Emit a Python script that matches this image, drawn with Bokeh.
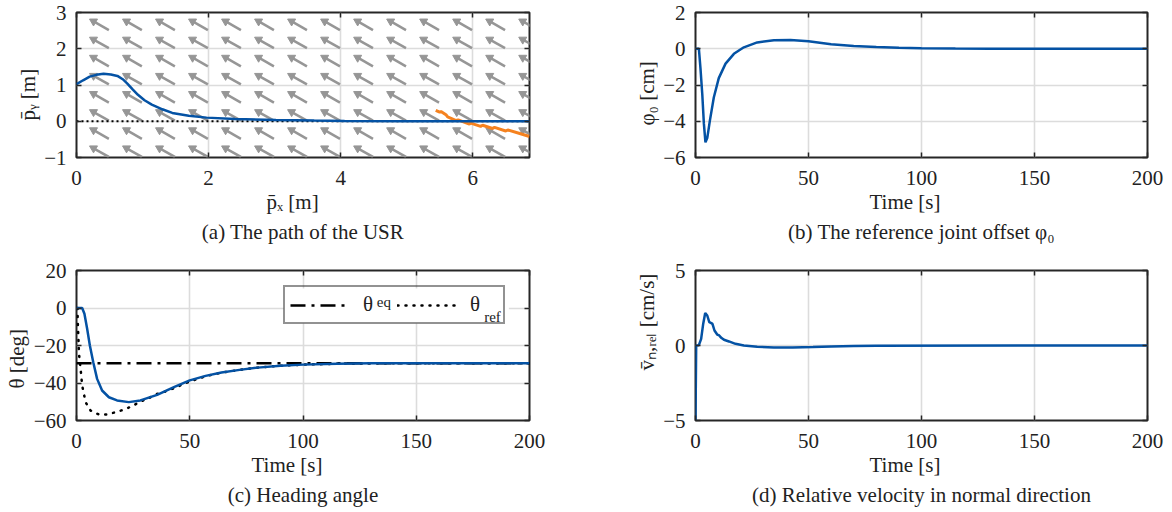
import numpy as np
from bokeh.plotting import figure
from bokeh.layouts import column, row
from bokeh.models import (Range1d, FixedTicker, LinearAxis, Title, Legend, LegendItem,
                          CustomJSTickFormatter, BoxAnnotation)
from bokeh.core.properties import value
from bokeh.embed import file_html
from bokeh.resources import INLINE

FONT = "Liberation Serif"
TXT = "#222222"
BLUE = "#0452A4"
ORANGE = "#F5821F"
GRAY = "#969696"
FS = "21px"

# ---------------- data ----------------
# (a) path of the USR
path_x = [0.00, 0.10, 0.20, 0.30, 0.41, 0.52, 0.62, 0.70, 0.77, 0.85, 0.93, 1.03, 1.14,
          1.30, 1.45, 1.70, 1.97, 2.40, 3.02, 3.60, 4.06, 5.00, 6.00, 6.86]
path_y = [1.02, 1.13, 1.23, 1.28, 1.31, 1.29, 1.25, 1.16, 1.04, 0.88, 0.73, 0.58, 0.46,
          0.33, 0.23, 0.15, 0.10, 0.06, 0.035, 0.02, 0.01, 0.0, 0.0, 0.0]
ref_path_x = [0.0, 6.86]
ref_path_y = [0.0, 0.0]
target_x = [5.44, 5.50, 5.52, 5.60, 5.62, 5.75, 5.78, 5.95, 5.97, 6.12, 6.15, 6.30, 6.33,
            6.50, 6.53, 6.70, 6.86]
target_y = [0.30, 0.25, 0.27, 0.17, 0.12, 0.02, 0.04, -0.08, -0.05, -0.14, -0.11, -0.20,
            -0.17, -0.27, -0.24, -0.33, -0.42]
quiver_x = [0.35, 0.85, 1.35, 1.85, 2.35, 2.85, 3.35, 3.85, 4.35, 4.85, 5.35, 5.85, 6.35, 6.85]
quiver_y = [2.66, 2.16, 1.66, 1.16, 0.66, 0.16, -0.34, -0.84]
quiver_u = -0.28
quiver_v = 0.29

# (b) reference joint offset phi0 [cm]
t_phi = [0, 1.5, 2.2, 3.0, 3.7, 4.4, 5.2, 6.4, 8.1, 10.3, 13.3, 17.0, 21.4, 27.3, 34.7,
         42, 50, 60, 70, 80, 90, 100, 115, 130, 200]
phi0 = [0, 0, -1.08, -2.51, -4.12, -5.16, -4.93, -3.94, -2.69, -1.62, -0.82, -0.28, 0.08,
        0.35, 0.47, 0.48, 0.41, 0.25, 0.15, 0.09, 0.05, 0.03, 0.01, 0.0, 0.0]

# (c) heading angle [deg]
t_theta = [0, 2.5, 3.5, 4.7, 5.9, 7.4, 9.1, 11.3, 14.3, 17.9, 23.1, 28.2, 35.6, 43, 50,
           57, 64, 72, 80, 90, 100, 115, 130, 150, 200]
theta = [0, 0, -3.1, -11.1, -20, -28.9, -37.8, -44, -47.6, -49.3, -50.2, -49.3, -46.3,
         -42.2, -38.6, -36.2, -34.4, -33.0, -31.8, -30.8, -30.2, -29.7, -29.5, -29.4, -29.4]
t_eq = [0, 200]
theta_eq = [-29.4, -29.4]
t_ref = [0.5, 0.5, 0.8, 1.1, 1.8, 2.5, 4.0, 6.2, 9.9, 13.5, 17.2, 20.9, 24.5, 28.2, 31.9,
         35.6, 39.3, 42.3, 45.9, 50, 57, 64, 72, 80, 90, 100, 115, 130, 150, 200]
theta_ref = [0, -5.7, -14.7, -24.4, -32.4, -41.3, -50.2, -54.7, -56.8, -56.8, -55.6, -54.2,
             -52.4, -49.9, -48.1, -45.8, -44.5, -43.1, -41.3, -39.2, -36.4, -34.5, -33.0,
             -31.8, -30.8, -30.2, -29.7, -29.5, -29.4, -29.4]
legend_main = ["\u03b8", "\u03b8"]
legend_scripts = ["eq", "ref"]

# (d) relative velocity in normal direction [cm/s]
t_v = [0, 0.3, 1.5, 2.5, 3.4, 4.3, 5.2, 6.1, 7.0, 7.5, 8.4, 9.6, 10.5, 11.4, 12.6, 14.8,
       17.7, 21.4, 27.3, 34.7, 43, 52, 60, 70, 80, 200]
v_rel = [-5, 0, 0.02, 0.44, 1.44, 2.16, 2.0, 1.56, 1.49, 1.44, 1.0, 0.73, 0.67, 0.51, 0.38,
         0.27, 0.11, 0.0, -0.09, -0.13, -0.14, -0.10, -0.06, -0.03, -0.01, 0.0]

ticks_a_x = [0, 2, 4, 6]
ticks_a_y = [-1, 0, 1, 2, 3]
ticks_t = [0, 50, 100, 150, 200]
ticks_b_y = [-6, -4, -2, 0, 2]
ticks_c_y = [-60, -40, -20, 0, 20]
ticks_d_y = [-5, 0, 5]

MINUS = CustomJSTickFormatter(code="return (tick < 0 ? '\\u2212' : '') + Math.abs(tick).toString();")
EMPTY = CustomJSTickFormatter(code="return '';")


def txt_title(text, align, offset, standoff):
    return Title(text=text, text_font=FONT, text_font_size=FS, text_font_style="normal",
                 text_color=TXT, align=align, offset=offset, standoff=standoff)


def make_fig(xr, yr, xt, yt, w, h, bl, br, bt, bb, xlabel, xoff, ylabel, yoff, caption):
    p = figure(width=w, height=h, x_range=Range1d(*xr), y_range=Range1d(*yr),
               output_backend="svg", toolbar_location=None,
               min_border_left=bl, min_border_right=br, min_border_top=bt, min_border_bottom=bb)
    p.background_fill_color = "white"
    p.border_fill_color = "white"
    p.outline_line_color = "#262626"
    p.outline_line_width = 2
    p.xaxis.ticker = FixedTicker(ticks=xt)
    p.yaxis.ticker = FixedTicker(ticks=yt)
    for ax in (p.xaxis[0], p.yaxis[0]):
        ax.formatter = MINUS
        ax.axis_line_color = None
        ax.major_tick_in = 5
        ax.major_tick_out = 0
        ax.major_tick_line_color = "#262626"
        ax.major_tick_line_width = 1.5
        ax.minor_tick_line_color = None
        ax.major_label_text_font = FONT
        ax.major_label_text_font_size = FS
        ax.major_label_text_color = TXT
    p.xaxis.major_label_standoff = 13
    p.yaxis.major_label_standoff = 10
    for loc, t in (("above", xt), ("right", yt)):
        ax = LinearAxis(ticker=FixedTicker(ticks=t), formatter=EMPTY, axis_line_color=None,
                        major_tick_in=5, major_tick_out=0, major_tick_line_color="#262626",
                        major_tick_line_width=1.5, minor_tick_line_color=None,
                        major_label_standoff=0, major_label_text_font_size="1px")
        p.add_layout(ax, loc)
    p.grid.grid_line_color = "#dcdcdc"
    p.grid.grid_line_width = 1.6
    # axis labels (placed as titles so they can sit off-centre like the reference)
    p.add_layout(txt_title(xlabel, "left", xoff, 0), "below")
    p.add_layout(txt_title(caption, "center", 0, 8), "below")
    p.add_layout(txt_title(ylabel, "left", yoff, 4), "left")
    return p


# ---- (a) ----
pa = make_fig((0, 6.86), (-1, 3), ticks_a_x, ticks_a_y, 600, 250, 76, 71, 12, 93,
              "p\u0304\u2093 [m]", 190, "p\u0304\u1d67 [m]", 37, "(a) The path of the USR")
QX, QY = np.meshgrid(np.array(quiver_x), np.array(quiver_y))
QX = QX.ravel()
QY = QY.ravel()
pa.segment(x0=QX - quiver_u / 2, y0=QY - quiver_v / 2, x1=QX + quiver_u * 0.3,
           y1=QY + quiver_v * 0.3, line_color=GRAY, line_width=2.5)
pa.scatter(x=QX + quiver_u * 0.33, y=QY + quiver_v * 0.33, marker="triangle", size=8,
           angle=np.arctan2(quiver_v * 36.5, quiver_u * 66.0) - np.pi / 2,
           fill_color=GRAY, line_color=GRAY)
pa.line(ref_path_x, ref_path_y, line_color="black", line_width=2, line_dash="2 3")
pa.line(target_x, target_y, line_color=ORANGE, line_width=3)
pa.line(path_x, path_y, line_color=BLUE, line_width=2.5)

# ---- (b) ----
pb = make_fig((0, 200), (-6, 2), ticks_t, ticks_b_y, 572, 250, 95, 25, 12, 93,
              "Time [s]", 174, "\u03c6\u2080 [cm]", 32, "(b) The reference joint offset \u03c6\u2080")
pb.line(t_phi, phi0, line_color=BLUE, line_width=2.5)

# ---- (c) ----
pc = make_fig((0, 200), (-60, 20), ticks_t, ticks_c_y, 600, 262, 76, 71, 20, 92,
              "Time [s]", 175, "\u03b8 [deg]", 32, "(c) Heading angle")
# white backing of the legend box, hides the grid behind it
pc.add_layout(BoxAnnotation(left=91.5, right=190.9, top=10.4, bottom=-8.3, fill_color="white",
                            fill_alpha=1, line_color=None, level="underlay"))
r_eq = pc.line(t_eq, theta_eq, line_color="black", line_width=2.5, line_dash="15 6 3 6")
r_ref = pc.line(t_ref, theta_ref, line_color="black", line_width=2.5, line_dash="1 7",
                line_cap="round")
pc.line(t_theta, theta, line_color=BLUE, line_width=2.5)
leg = Legend(items=[LegendItem(label=legend_main[0], renderers=[r_eq]),
                    LegendItem(label=legend_main[1], renderers=[r_ref])],
             orientation="horizontal", location=(207, 96), glyph_width=60, glyph_height=18,
             label_standoff=13, spacing=6, padding=5, margin=0, label_width=28,
             border_line_color="#262626", border_line_width=2, background_fill_alpha=0,
             label_text_font=FONT, label_text_font_size=FS, label_text_color=TXT)
pc.add_layout(leg)
# super/subscripts of the legend labels (theta^eq, theta_ref)
pc.text(x=[132.6, 180.0], y=[3.4, -4.9], text=legend_scripts, text_font=value(FONT),
        text_font_size="15px", text_color=TXT, text_baseline="alphabetic", text_align="left")

# ---- (d) ----
pd_ = make_fig((0, 200), (-5, 5), ticks_t, ticks_d_y, 572, 262, 95, 25, 20, 92,
               "Time [s]", 174, "v\u0304\u2099,\u1d63\u2091\u2097 [cm/s]", 50,
               "(d) Relative velocity in normal direction")
pd_.line(t_v, v_rel, line_color=BLUE, line_width=2.5)

layout = column(row(pa, pb), row(pc, pd_))
open("out.html", "w").write(file_html(layout, INLINE))
